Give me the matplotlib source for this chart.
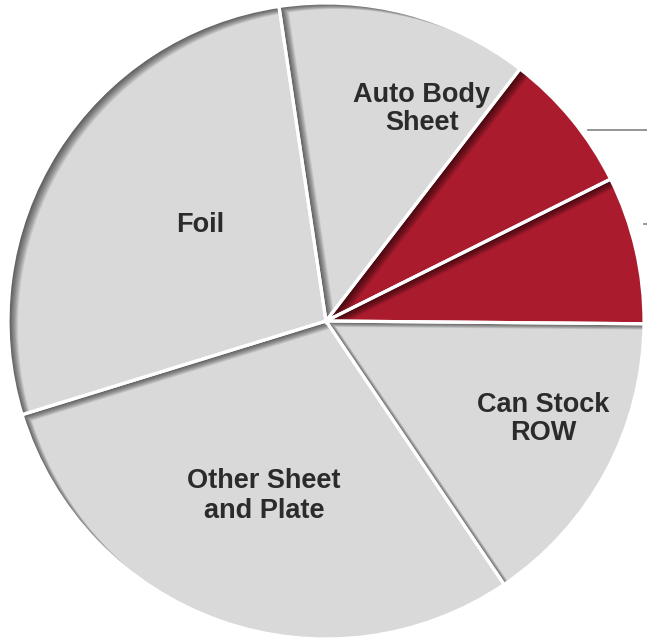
import numpy as np
import matplotlib
matplotlib.use("Agg")
import matplotlib.pyplot as plt
from matplotlib.path import Path
from matplotlib.patches import PathPatch, Wedge

# Aluminium rolled-products shipments by end market (share, %)
segments = ["Segment A", "Segment B", "Auto Body\nSheet", "Foil",
            "Other Sheet\nand Plate", "Can Stock\nROW"]
shares = [7.5, 7.2, 12.8, 27.4, 29.7, 15.4]
highlight = [True, True, False, False, False, False]
show_label = [False, False, True, True, True, True]

GREY = "#d9d9d9"
RED = "#aa1c2d"
TEXT = "#2b2b2b"

W, H = 647, 640
fig = plt.figure(figsize=(W / 100, H / 100), dpi=100)
ax = fig.add_axes([0, 0, 1, 1])

center = (326, 319)
radius = 318
colors = [RED if h else GREY for h in highlight]
wedges, _ = ax.pie(shares, colors=colors, startangle=-0.5, counterclock=True,
                   center=center, radius=radius, frame=True,
                   wedgeprops=dict(linewidth=0))
ax.set_xlim(0, W)
ax.set_ylim(0, H)
ax.set_aspect("equal")
ax.axis("off")


def wedge_polygon(w, dx=0.0, dy=0.0, n=200):
    cx, cy = w.center
    t = np.radians(np.linspace(w.theta1, w.theta2, n))
    xs = np.concatenate([[cx], cx + w.r * np.cos(t), [cx]]) + dx
    ys = np.concatenate([[cy], cy + w.r * np.sin(t), [cy]]) + dy
    return np.column_stack([xs, ys])


# inner shadow: light from the upper left, shadow along top/left edges
shift_dir = np.array([1.0, -0.6])
shift_dir /= np.linalg.norm(shift_dir)
n_layers, step, layer_alpha = 13, 0.9, 0.065
big = np.array([[-2000, -2000], [3000, -2000], [3000, 3000], [-2000, 3000], [-2000, -2000]])
for w in wedges:
    for k in range(1, n_layers + 1):
        off = shift_dir * step * k
        poly = wedge_polygon(w, off[0], off[1])[::-1]
        verts = np.concatenate([big, poly])
        codes = ([Path.MOVETO] + [Path.LINETO] * 3 + [Path.CLOSEPOLY]
                 + [Path.MOVETO] + [Path.LINETO] * (len(poly) - 2) + [Path.CLOSEPOLY])
        sh = PathPatch(Path(verts, codes), facecolor="black", edgecolor="none",
                       alpha=layer_alpha, zorder=2)
        ax.add_patch(sh)
        sh.set_clip_path(w)

# white separators between slices
for w in wedges:
    ax.add_patch(Wedge(w.center, w.r, w.theta1, w.theta2, facecolor="none",
                       edgecolor="white", linewidth=2.3, zorder=3))

# slice labels (offsets from the pie centre, in pixels)
label_offsets = [None, None, (96, 212), (-126, 96), (-62, -175), (217, -98)]
for seg, show, offs in zip(segments, show_label, label_offsets):
    if not show:
        continue
    ax.text(center[0] + offs[0], center[1] + offs[1], seg, ha="center", va="center",
            fontsize=19.5, fontweight="bold", color=TEXT,
            family=["Liberation Sans", "DejaVu Sans"], linespacing=1.15, zorder=4)

# leader lines running off to the right for the highlighted slices
ax.plot([588, 660], [H - 130, H - 130], color="#8c8c8c", lw=1.3, zorder=4, clip_on=False)
ax.plot([644, 660], [H - 224, H - 224], color="#8c8c8c", lw=1.3, zorder=4, clip_on=False)

fig.savefig("out.png", dpi=100)
